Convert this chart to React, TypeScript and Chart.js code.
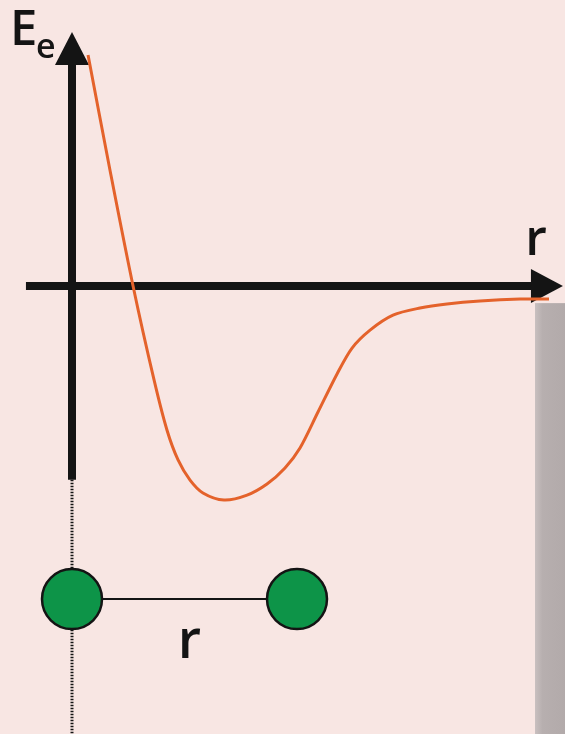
import { useEffect, useRef } from "react";
import { Chart, registerables } from "chart.js";

Chart.register(...registerables);

// Internuclear separation r (arbitrary units) and electronic energy Ee (well depth = 1)
const separations = [
  0.107, 0.253, 0.407, 0.547, 0.633, 0.707, 0.787, 0.873, 1.013, 1.167, 1.3, 1.42,
  1.52, 1.64, 1.767, 1.867, 1.987, 2.14, 2.32, 2.5, 2.72, 2.987, 3.18,
];
const energies = [
  1.079, 0.542, 0, -0.439, -0.673, -0.813, -0.907, -0.967, -1.0, -0.977, -0.925,
  -0.85, -0.757, -0.589, -0.411, -0.29, -0.206, -0.136, -0.103, -0.084, -0.07, -0.061,
  -0.061,
];

// Axis extents and the molecule sketch, in data units
const rAxisRange = [-0.307, 3.273];
const eAxisRange = [-0.905, 1.187];
const bondLength = 1.5;
const moleculeLevel = -1.463;

const axisLabels = { energy: "E", energySub: "e", distance: "r" };

const BG = "#f8e6e3";
const INK = "#141414";
const CURVE = "#e4622b";
const ATOM = "#0d9448";

const sketchPlugin = {
  id: "sketch",
  beforeDraw(chart: any) {
    const { ctx, width, height } = chart;
    ctx.save();
    ctx.fillStyle = BG;
    ctx.fillRect(0, 0, width, height);
    // grey edge strip on the right
    const y0 = chart.scales.y.getPixelForValue(-0.08);
    const g = ctx.createLinearGradient(width - 30, 0, width, 0);
    g.addColorStop(0, "#c9c0c0");
    g.addColorStop(0.25, "#b7afaf");
    g.addColorStop(1, "#b2aaaa");
    ctx.fillStyle = g;
    ctx.fillRect(width - 30, y0, 30, height - y0);
    ctx.restore();
  },
  beforeDatasetsDraw(chart: any) {
    const { ctx } = chart;
    const xs = chart.scales.x;
    const ys = chart.scales.y;
    const x0 = xs.getPixelForValue(0);
    const y0 = ys.getPixelForValue(0);
    ctx.save();
    ctx.fillStyle = INK;
    ctx.strokeStyle = INK;
    ctx.lineWidth = 8;
    ctx.lineCap = "butt";

    // horizontal axis
    const xl = xs.getPixelForValue(rAxisRange[0]);
    const xt = xs.getPixelForValue(rAxisRange[1]);
    ctx.beginPath();
    ctx.moveTo(xl, y0);
    ctx.lineTo(xt - 30, y0);
    ctx.stroke();
    ctx.beginPath();
    ctx.moveTo(xt, y0);
    ctx.lineTo(xt - 32, y0 - 17);
    ctx.lineTo(xt - 32, y0 + 17);
    ctx.closePath();
    ctx.fill();

    // vertical axis
    const yb = ys.getPixelForValue(eAxisRange[0]);
    const yt = ys.getPixelForValue(eAxisRange[1]);
    ctx.beginPath();
    ctx.moveTo(x0, yb);
    ctx.lineTo(x0, yt + 30);
    ctx.stroke();
    ctx.beginPath();
    ctx.moveTo(x0, yt);
    ctx.lineTo(x0 - 17, yt + 33);
    ctx.lineTo(x0 + 17, yt + 33);
    ctx.closePath();
    ctx.fill();

    // dotted drop line below the vertical axis
    ctx.lineWidth = 3;
    ctx.setLineDash([1.5, 1.5]);
    ctx.beginPath();
    ctx.moveTo(x0, yb);
    ctx.lineTo(x0, chart.height);
    ctx.stroke();
    ctx.restore();
  },
  afterDraw(chart: any) {
    const { ctx } = chart;
    const xs = chart.scales.x;
    const ys = chart.scales.y;
    const x0 = xs.getPixelForValue(0);
    const x1 = xs.getPixelForValue(bondLength);
    const ym = ys.getPixelForValue(moleculeLevel);
    const rad = 30;
    ctx.save();

    // bond
    ctx.strokeStyle = INK;
    ctx.lineWidth = 2;
    ctx.beginPath();
    ctx.moveTo(x0 + rad, ym);
    ctx.lineTo(x1 - rad, ym);
    ctx.stroke();

    // atoms
    for (const cx of [x0, x1]) {
      ctx.beginPath();
      ctx.arc(cx, ym, rad, 0, Math.PI * 2);
      ctx.fillStyle = ATOM;
      ctx.fill();
      ctx.lineWidth = 2.5;
      ctx.strokeStyle = INK;
      ctx.stroke();
    }

    // labels
    ctx.fillStyle = INK;
    ctx.textBaseline = "alphabetic";
    ctx.textAlign = "left";
    ctx.font = '600 49px "Open Sans"';
    ctx.fillText(axisLabels.energy, 10, 45);
    ctx.font = '600 34px "Open Sans"';
    ctx.fillText(axisLabels.energySub, 36, 58);

    ctx.textAlign = "center";
    ctx.font = '600 50px "Open Sans"';
    ctx.fillText(axisLabels.distance, 536, 255);
    ctx.font = '600 54px "Open Sans"';
    ctx.fillText(axisLabels.distance, (x0 + x1) / 2 + 5, 658);
    ctx.restore();
  },
};

export default function App() {
  const ref = useRef<HTMLCanvasElement | null>(null);

  useEffect(() => {
    document.body.style.margin = "0";
    const canvas = ref.current;
    if (!canvas) return;
    const chart = new Chart(canvas, {
      type: "line",
      data: {
        datasets: [
          {
            data: separations.map((r, i) => ({ x: r, y: energies[i] })),
            borderColor: CURVE,
            borderWidth: 3,
            pointRadius: 0,
            tension: 0.3,
            fill: false,
          },
        ],
      },
      options: {
        responsive: false,
        animation: false,
        devicePixelRatio: 1,
        layout: { padding: { left: 72, right: 13, top: 29.2, bottom: 191.2 } },
        plugins: { legend: { display: false }, tooltip: { enabled: false } },
        scales: {
          x: { type: "linear", min: 0, max: 3.2, display: false },
          y: { type: "linear", min: -1.2, max: 1.2, display: false },
        },
      },
      plugins: [sketchPlugin],
    });
    return () => chart.destroy();
  }, []);

  return (
    <div style={{ position: "absolute", left: 0, top: 0, width: 565, height: 734 }}>
      <canvas ref={ref} width={565} height={734} style={{ display: "block" }} />
    </div>
  );
}
